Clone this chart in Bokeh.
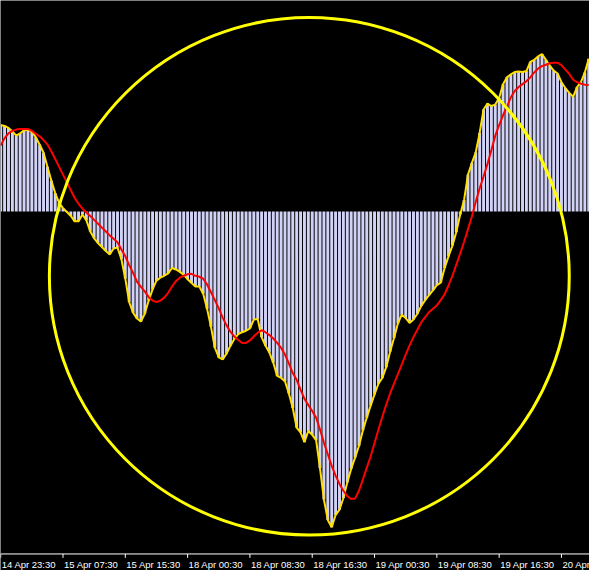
from bokeh.plotting import figure
from bokeh.models import ColumnDataSource, Range1d, Span
from bokeh.core.properties import value
from bokeh.embed import file_html
from bokeh.resources import INLINE

# M30 bars; one tick label every 16 bars (8 hours)
tick_bars = [0, 16, 32, 48, 64, 80, 96, 112, 128, 144]
tick_labels = ["14 Apr 23:30", "15 Apr 07:30", "15 Apr 15:30", "18 Apr 00:30",
               "18 Apr 08:30", "18 Apr 16:30", "19 Apr 00:30", "19 Apr 08:30",
               "19 Apr 16:30", "20 Apr"]

# oscillator histogram (one value per bar)
histogram = [
    89, 88, 86, 82.5, 78, 80.5, 83.5, 84, 82, 76.5,
    69, 60.5, 46, 32, 19, 9, 3.5, -0.5, -4.5, -10,
    -10, -3, -9, -20.5, -27.5, -32.5, -36.5, -40.5, -44, -38,
    -37, -49, -69, -93, -104, -110, -113, -105, -91.5, -80,
    -71, -68, -66, -63.5, -58, -59.5, -62, -65, -69.5, -73.5,
    -77, -77, -84.5, -100, -118.5, -140, -150, -152, -146, -138,
    -131, -126, -124, -122.5, -120, -111, -110.5, -129, -138, -145,
    -155.5, -169, -171, -174.5, -187, -202, -222, -227, -237, -225.5,
    -229.5, -235, -264, -296, -317, -324.5, -312, -306.5, -294.5, -278.5,
    -264.5, -253, -241, -225, -212, -199.5, -188, -177, -171, -160,
    -144, -130, -115, -106, -109.5, -114.5, -111, -105, -97, -91,
    -86, -81, -75.7, -73, -58, -46, -35, -21, -3, 12,
    38, 50, 61, 81, 105, 111, 108.5, 110, 117, 131,
    138, 141, 143.5, 144, 143.5, 144.5, 154, 156, 159.5, 162,
    156, 150, 145, 142, 133, 127, 122, 118, 128, 133,
    143, 157,
]

# signal line (one value per bar)
signal = [
    68, 75.5, 80.5, 83, 84.3, 85, 85, 85, 83, 80,
    77.4, 73.5, 69, 62, 54, 46, 38, 30, 22, 14,
    8, 3, -1, -4.5, -8.5, -12.5, -16.5, -20.5, -24.5, -28,
    -31.5, -39, -46, -55, -63, -72, -77.5, -82, -88, -91.5,
    -93, -91.5, -88.5, -83.5, -77, -71.5, -68, -66, -64.5, -64,
    -66, -67, -69, -75, -83, -91, -99.5, -109, -117, -123.5,
    -128.5, -132, -135, -135, -132.5, -128.5, -124.5, -122, -124, -127,
    -130.5, -135, -140, -147, -156, -166, -173, -183, -192.5, -199,
    -205, -212, -224, -237.5, -249.5, -261.5, -271.5, -280, -287, -292.5,
    -295.5, -295, -287, -275.5, -263.5, -251.5, -238, -224, -211, -198.5,
    -187, -177, -167, -157, -147, -137.5, -129, -121.5, -114, -108.5,
    -103.5, -100, -96.5, -91, -85, -76, -66, -54.5, -43, -31,
    -18, -5, 10, 24, 36, 49, 63, 78, 89, 99,
    108, 117.5, 124, 128, 131, 134, 138, 143, 147, 149.5,
    151, 152.5, 153, 153, 150.5, 146, 141.5, 135.5, 133, 131.5,
    130.5, 130,
]

# highlight circle drawn round the move
highlight_bar = [79.25]
highlight_value = [-66.5]
highlight_width = [133.5]
highlight_height = [532]

# bottom of the indicator window and the time-scale strip under it
window_bottom = -352
scale_bottom = -369

bars = list(range(len(histogram)))
src = ColumnDataSource(data=dict(bar=bars, hist=histogram, sig=signal))
hl = ColumnDataSource(data=dict(x=highlight_bar, y=highlight_value,
                                w=highlight_width, h=highlight_height))
tk = ColumnDataSource(data=dict(bar=tick_bars, label=tick_labels,
                                y0=[window_bottom] * len(tick_bars),
                                y1=[window_bottom - 4] * len(tick_bars),
                                ylab=[window_bottom - 5] * len(tick_bars)))

p = figure(width=589, height=570, output_backend="svg", toolbar_location=None,
           x_range=Range1d(-0.05, 151.2), y_range=Range1d(scale_bottom, 217),
           background_fill_color="black", border_fill_color="black",
           outline_line_color=None, min_border=0,
           x_axis_location=None, y_axis_location=None)
p.xgrid.visible = False
p.ygrid.visible = False

p.vbar(x="bar", top="hist", bottom=0, width=0.75, source=src,
       fill_color="#D2D2F6", line_color=None)
p.line(x="bar", y="hist", source=src, line_color="#FFE000", line_width=2)
p.line(x="bar", y="sig", source=src, line_color="#FF0000", line_width=2)
p.ellipse(x="x", y="y", width="w", height="h", source=hl,
          fill_color=None, line_color="#FFFF00", line_width=3)

# time scale: separator line, ticks and left-aligned labels
p.add_layout(Span(location=window_bottom, dimension="width",
                  line_color="white", line_width=1))
p.segment(x0="bar", y0="y0", x1="bar", y1="y1", source=tk,
          line_color="white", line_width=1)
p.text(x="bar", y="ylab", text="label", source=tk, x_offset=1,
       text_align="left", text_baseline="top", text_color="white",
       text_font=value("Liberation Sans"), text_font_size="9.5px")

open("out.html", "w").write(file_html(p, INLINE))
